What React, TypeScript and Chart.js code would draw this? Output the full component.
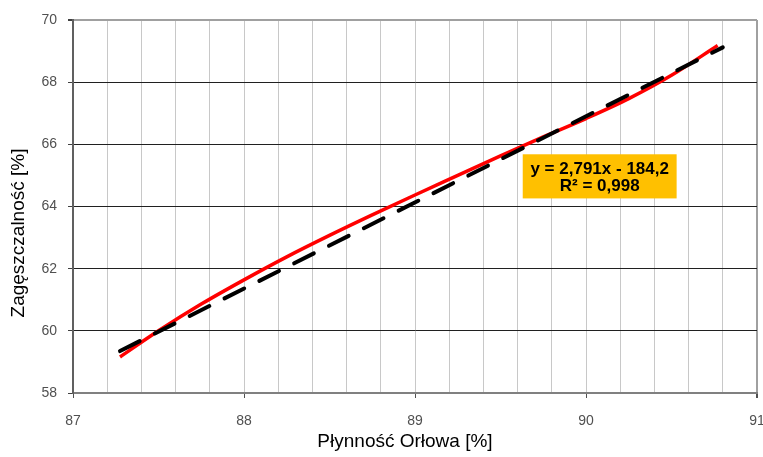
import React, { useEffect, useRef } from "react";
import { Chart, registerables } from "chart.js";

Chart.register(...registerables);

const FONT = "'Liberation Sans', Arial, sans-serif";

const xTitle = "Płynność Orłowa [%]";
const yTitle = "Zagęszczalność [%]";

// measured curve (red)
const curveX = [87.275, 87.5, 87.75, 88.0, 88.25, 88.5, 88.75, 89.0, 89.25, 89.5, 89.75, 90.0, 90.25, 90.5, 90.77];
const curveY = [59.16, 60.0, 60.86, 61.64, 62.38, 63.07, 63.73, 64.37, 65.0, 65.63, 66.24, 66.83, 67.47, 68.22, 69.18];

// linear trend line (black dashed)
const fitX = [87.275, 90.8];
const fitY = [59.35, 69.12];

const equationLines = ["y = 2,791x - 184,2", "R² = 0,998"];

const xMin = 87, xMax = 91, xStep = 0.2;
const yMin = 58, yMax = 70, yStep = 2;

const isInt = (v: number) => Math.abs(v - Math.round(v)) < 1e-6;

export default function App() {
  const ref = useRef<HTMLCanvasElement>(null);

  useEffect(() => {
    const titlesPlugin = {
      id: "titlesAndBox",
      afterDatasetsDraw(chart: any) {
        const { ctx, scales } = chart;
        const xs = scales.x, ys = scales.y;
        // equation box
        const l = xs.getPixelForValue(89.63);
        const r = xs.getPixelForValue(90.53);
        const t = ys.getPixelForValue(65.68);
        const b = ys.getPixelForValue(64.26);
        ctx.save();
        ctx.fillStyle = "#ffc000";
        ctx.fillRect(l, t, r - l, b - t);
        ctx.fillStyle = "#000";
        ctx.font = `bold 17px ${FONT}`;
        ctx.textAlign = "center";
        ctx.textBaseline = "middle";
        const cx = (l + r) / 2;
        ctx.fillText(equationLines[0], cx, t + 15);
        ctx.fillText(equationLines[1], cx, t + 32);
        ctx.restore();
      },
      afterDraw(chart: any) {
        const { ctx } = chart;
        ctx.save();
        ctx.fillStyle = "#000";
        ctx.font = `19px ${FONT}`;
        ctx.textAlign = "center";
        ctx.textBaseline = "middle";
        ctx.fillText(xTitle, 405, 442);
        ctx.translate(19, 233);
        ctx.rotate(-Math.PI / 2);
        ctx.fillText(yTitle, 0, 0);
        ctx.restore();
      },
    };

    const chart = new Chart(ref.current!, {
      type: "scatter",
      data: {
        datasets: [
          {
            label: "trend",
            data: fitX.map((x, i) => ({ x, y: fitY[i] })),
            showLine: true,
            borderColor: "#000000",
            borderWidth: 4,
            borderDash: [22, 17],
            borderCapStyle: "round",
            pointRadius: 0,
            order: 0,
          },
          {
            label: "data",
            data: curveX.map((x, i) => ({ x, y: curveY[i] })),
            showLine: true,
            borderColor: "#ff0000",
            borderWidth: 3.5,
            cubicInterpolationMode: "monotone",
            pointRadius: 0,
            order: 1,
          },
        ],
      },
      options: {
        responsive: false,
        animation: false,
        devicePixelRatio: 1,
        layout: { padding: { left: 0, top: 20, right: 6, bottom: 0 } },
        plugins: { legend: { display: false }, tooltip: { enabled: false } },
        scales: {
          x: {
            type: "linear",
            min: xMin,
            max: xMax,
            afterFit(scale: any) {
              scale.height = 64;
              scale.paddingLeft = 0;
              scale.paddingRight = 0;
            },
            ticks: {
              stepSize: xStep,
              autoSkip: false,
              maxRotation: 0,
              padding: 15,
              color: "#505050",
              font: { family: FONT, size: 14 },
              callback: (v: any) => (isInt(Number(v)) ? String(Math.round(Number(v))) : ""),
            },
            grid: {
              tickLength: 5,
              color: (c: any) => {
                const v = c.tick ? c.tick.value : 0;
                if (Math.abs(v - xMax) < 1e-6) return "#a0a0a0";
                if (Math.abs(v - xMin) < 1e-6) return "#606060";
                return "#c8c8c8";
              },
              lineWidth: (c: any) => {
                const v = c.tick ? c.tick.value : 0;
                return Math.abs(v - xMax) < 1e-6 ? 2 : 1;
              },
              tickColor: (c: any) => {
                const v = c.tick ? c.tick.value : 0.5;
                return isInt(v) ? "#505050" : "rgba(0,0,0,0)";
              },
            },
            border: { color: "#808080", width: 2 },
          },
          y: {
            type: "linear",
            min: yMin,
            max: yMax,
            afterFit(scale: any) {
              scale.width = 73;
              scale.paddingTop = 0;
              scale.paddingBottom = 0;
            },
            ticks: {
              stepSize: yStep,
              padding: 11,
              color: "#505050",
              font: { family: FONT, size: 14 },
            },
            grid: {
              tickLength: 5,
              color: (c: any) => {
                const v = c.tick ? c.tick.value : 0;
                if (Math.abs(v - yMax) < 1e-6) return "#a0a0a0";
                return "#202020";
              },
              lineWidth: (c: any) => {
                const v = c.tick ? c.tick.value : 0;
                return Math.abs(v - yMax) < 1e-6 ? 2 : 1;
              },
              tickColor: "#404040",
            },
            border: { color: "#606060", width: 2 },
          },
        },
      },
      plugins: [titlesPlugin],
    } as any);

    return () => chart.destroy();
  }, []);

  return (
    <div style={{ position: "fixed", left: 0, top: 0, width: 763, height: 457, background: "#fff" }}>
      <canvas ref={ref} width={763} height={457} style={{ display: "block" }} />
    </div>
  );
}
